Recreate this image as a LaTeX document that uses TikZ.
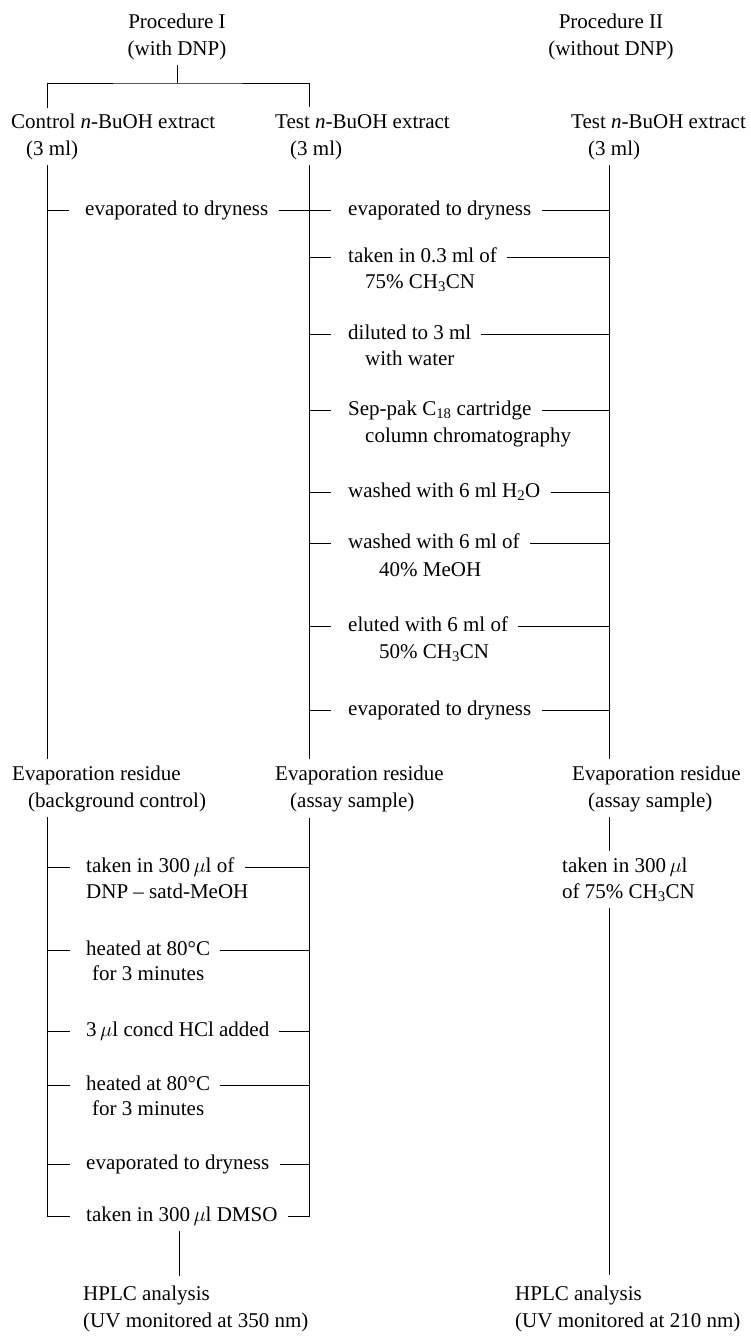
\documentclass[tikz,border=0pt]{standalone}
\usepackage{fontspec}
\setmainfont{Liberation Serif}
\usepackage{tikz}
\usetikzlibrary{calc,positioning}
\newcommand{\nBuOH}{\textit{n}-BuOH}
\newcommand{\ul}{\,$\mu$l}

\tikzset{
  lbl/.style={anchor=west, inner sep=0pt, text height=15pt, text depth=5pt,
    font=\fontsize{21}{26}\selectfont},
  ttl/.style={lbl, anchor=center},
  flow/.style={line width=0.8pt, shorten <=5pt, shorten >=6pt},
  stubl/.style={line width=0.8pt, shorten >=16pt},
  stubm/.style={line width=0.8pt, shorten >=17pt},
  tail/.style={line width=0.8pt, shorten <=10pt}
}

\begin{document}
\begin{tikzpicture}[x=1pt,y=-1pt]
    \useasboundingbox (0,0) rectangle (751,1339);
    \coordinate (L) at (47,0);
    \coordinate (M) at (309,0);
    \coordinate (R) at (609,0);
    \coordinate (B) at (179,0);
    \coordinate (brk) at (177,83);

    % headings
    \node[ttl] (p1) at (177,23) {Procedure I};
    \node[ttl] (p1b) at (177,50) {(with DNP)};
    \node[ttl] (p2) at (611,23) {Procedure II};
    \node[ttl] (p2b) at (611,50) {(without DNP)};

    \node[lbl] (c1) at (11,123) {Control \nBuOH{} extract};
    \node[lbl] (c1b) at (26,150) {(3 ml)};
    \node[lbl] (t1) at (275,123) {Test \nBuOH{} extract};
    \node[lbl] (t1b) at (290,150) {(3 ml)};
    \node[lbl] (t2) at (571,123) {Test \nBuOH{} extract};
    \node[lbl] (t2b) at (588,150) {(3 ml)};

    \draw[flow, shorten >=0pt] (p1b.south) -- (brk);
    \draw[flow] (c1.north -| L) |- (brk) -| (t1.north -| M);

    % first steps
    \node[lbl] (a1) at (85,210) {evaporated to dryness};
    \node[lbl] (m1) at (348,210) {evaporated to dryness};
    \node[lbl] (m2) at (348,257) {taken in 0.3 ml of};
    \node[lbl] (m2b) at (365,283) {75\% CH\textsubscript{3}CN};
    \node[lbl] (m3) at (348,334) {diluted to 3 ml};
    \node[lbl] (m3b) at (365,360) {with water};
    \node[lbl] (m4) at (348,410) {Sep-pak C\textsubscript{18} cartridge};
    \node[lbl] (m4b) at (365,437) {column chromatography};
    \node[lbl] (m5) at (348,492) {washed with 6 ml H\textsubscript{2}O};
    \node[lbl] (m6) at (348,543) {washed with 6 ml of};
    \node[lbl] (m6b) at (379,571) {40\% MeOH};
    \node[lbl] (m7) at (348,626) {eluted with 6 ml of};
    \node[lbl] (m7b) at (379,653) {50\% CH\textsubscript{3}CN};
    \node[lbl] (m8) at (348,710) {evaporated to dryness};

    % residues
    \node[lbl] (e1) at (12,775) {Evaporation residue};
    \node[lbl] (e1b) at (28,802) {(background control)};
    \node[lbl] (e2) at (275,775) {Evaporation residue};
    \node[lbl] (e2b) at (290,802) {(assay sample)};
    \node[lbl] (e3) at (572,775) {Evaporation residue};
    \node[lbl] (e3b) at (588,802) {(assay sample)};

    % derivatization
    \node[lbl] (d1) at (86,867) {taken in 300\ul{} of};
    \node[lbl] (d1b) at (86,893) {DNP -- satd-MeOH};
    \node[lbl] (d2) at (86,950) {heated at 80°C};
    \node[lbl] (d2b) at (92,975) {for 3 minutes};
    \node[lbl] (d3) at (86,1031) {3\ul{} concd HCl added};
    \node[lbl] (d4) at (86,1085) {heated at 80°C};
    \node[lbl] (d4b) at (92,1110) {for 3 minutes};
    \node[lbl] (d5) at (86,1164) {evaporated to dryness};
    \node[lbl] (d6) at (86,1216) {taken in 300\ul{} DMSO};
    \node[lbl] (r1) at (562,867) {taken in 300\ul};
    \node[lbl] (r1b) at (562,893) {of 75\% CH\textsubscript{3}CN};

    \node[lbl] (h1) at (83,1295) {HPLC analysis};
    \node[lbl] (h1b) at (83,1322) {(UV monitored at 350 nm)};
    \node[lbl] (h2) at (515,1295) {HPLC analysis};
    \node[lbl] (h2b) at (515,1322) {(UV monitored at 210 nm)};

    % main lines
    \draw[flow] (c1b.south -| L) -- (e1.north -| L);
    \draw[flow] (t1b.south -| M) -- (e2.north -| M);
    \draw[flow] (t2b.south -| R) -- (e3.north -| R);
    \draw[flow, shorten >=16pt] (e1b.south -| L) |- (d6.west);
    \draw[flow, shorten <=10pt] (d6.east) -| (e2b.south -| M);
    \draw[flow] (e3b.south -| R) -- (r1.north -| R);
    \draw[flow, shorten >=10pt] (r1b.south -| R) -- (h2.north -| R);
    \draw[flow, shorten >=9pt] (d6.south -| B) -- (h1.north -| B);

    % side branches
    \draw[stubl] (a1.west -| L) -- (a1.west);
    \draw[tail] (a1.east) -- (a1.east -| M);
    \draw[stubm] (m1.west -| M) -- (m1.west);
    \draw[tail] (m1.east) -- (m1.east -| R);
    \draw[stubm] (m2.west -| M) -- (m2.west);
    \draw[tail] (m2.east) -- (m2.east -| R);
    \draw[stubm] (m3.west -| M) -- (m3.west);
    \draw[tail] (m3.east) -- (m3.east -| R);
    \draw[stubm] (m4.west -| M) -- (m4.west);
    \draw[tail] (m4.east) -- (m4.east -| R);
    \draw[stubm] (m5.west -| M) -- (m5.west);
    \draw[tail] (m5.east) -- (m5.east -| R);
    \draw[stubm] (m6.west -| M) -- (m6.west);
    \draw[tail] (m6.east) -- (m6.east -| R);
    \draw[stubm] (m7.west -| M) -- (m7.west);
    \draw[tail] (m7.east) -- (m7.east -| R);
    \draw[stubm] (m8.west -| M) -- (m8.west);
    \draw[tail] (m8.east) -- (m8.east -| R);

    \draw[stubl] (d1.west -| L) -- (d1.west);
    \draw[tail] (d1.east) -- (d1.east -| M);
    \draw[stubl] (d2.west -| L) -- (d2.west);
    \draw[tail] (d2.east) -- (d2.east -| M);
    \draw[stubl] (d3.west -| L) -- (d3.west);
    \draw[tail] (d3.east) -- (d3.east -| M);
    \draw[stubl] (d4.west -| L) -- (d4.west);
    \draw[tail] (d4.east) -- (d4.east -| M);
    \draw[stubl] (d5.west -| L) -- (d5.west);
    \draw[tail] (d5.east) -- (d5.east -| M);
  \end{tikzpicture}
\end{document}
